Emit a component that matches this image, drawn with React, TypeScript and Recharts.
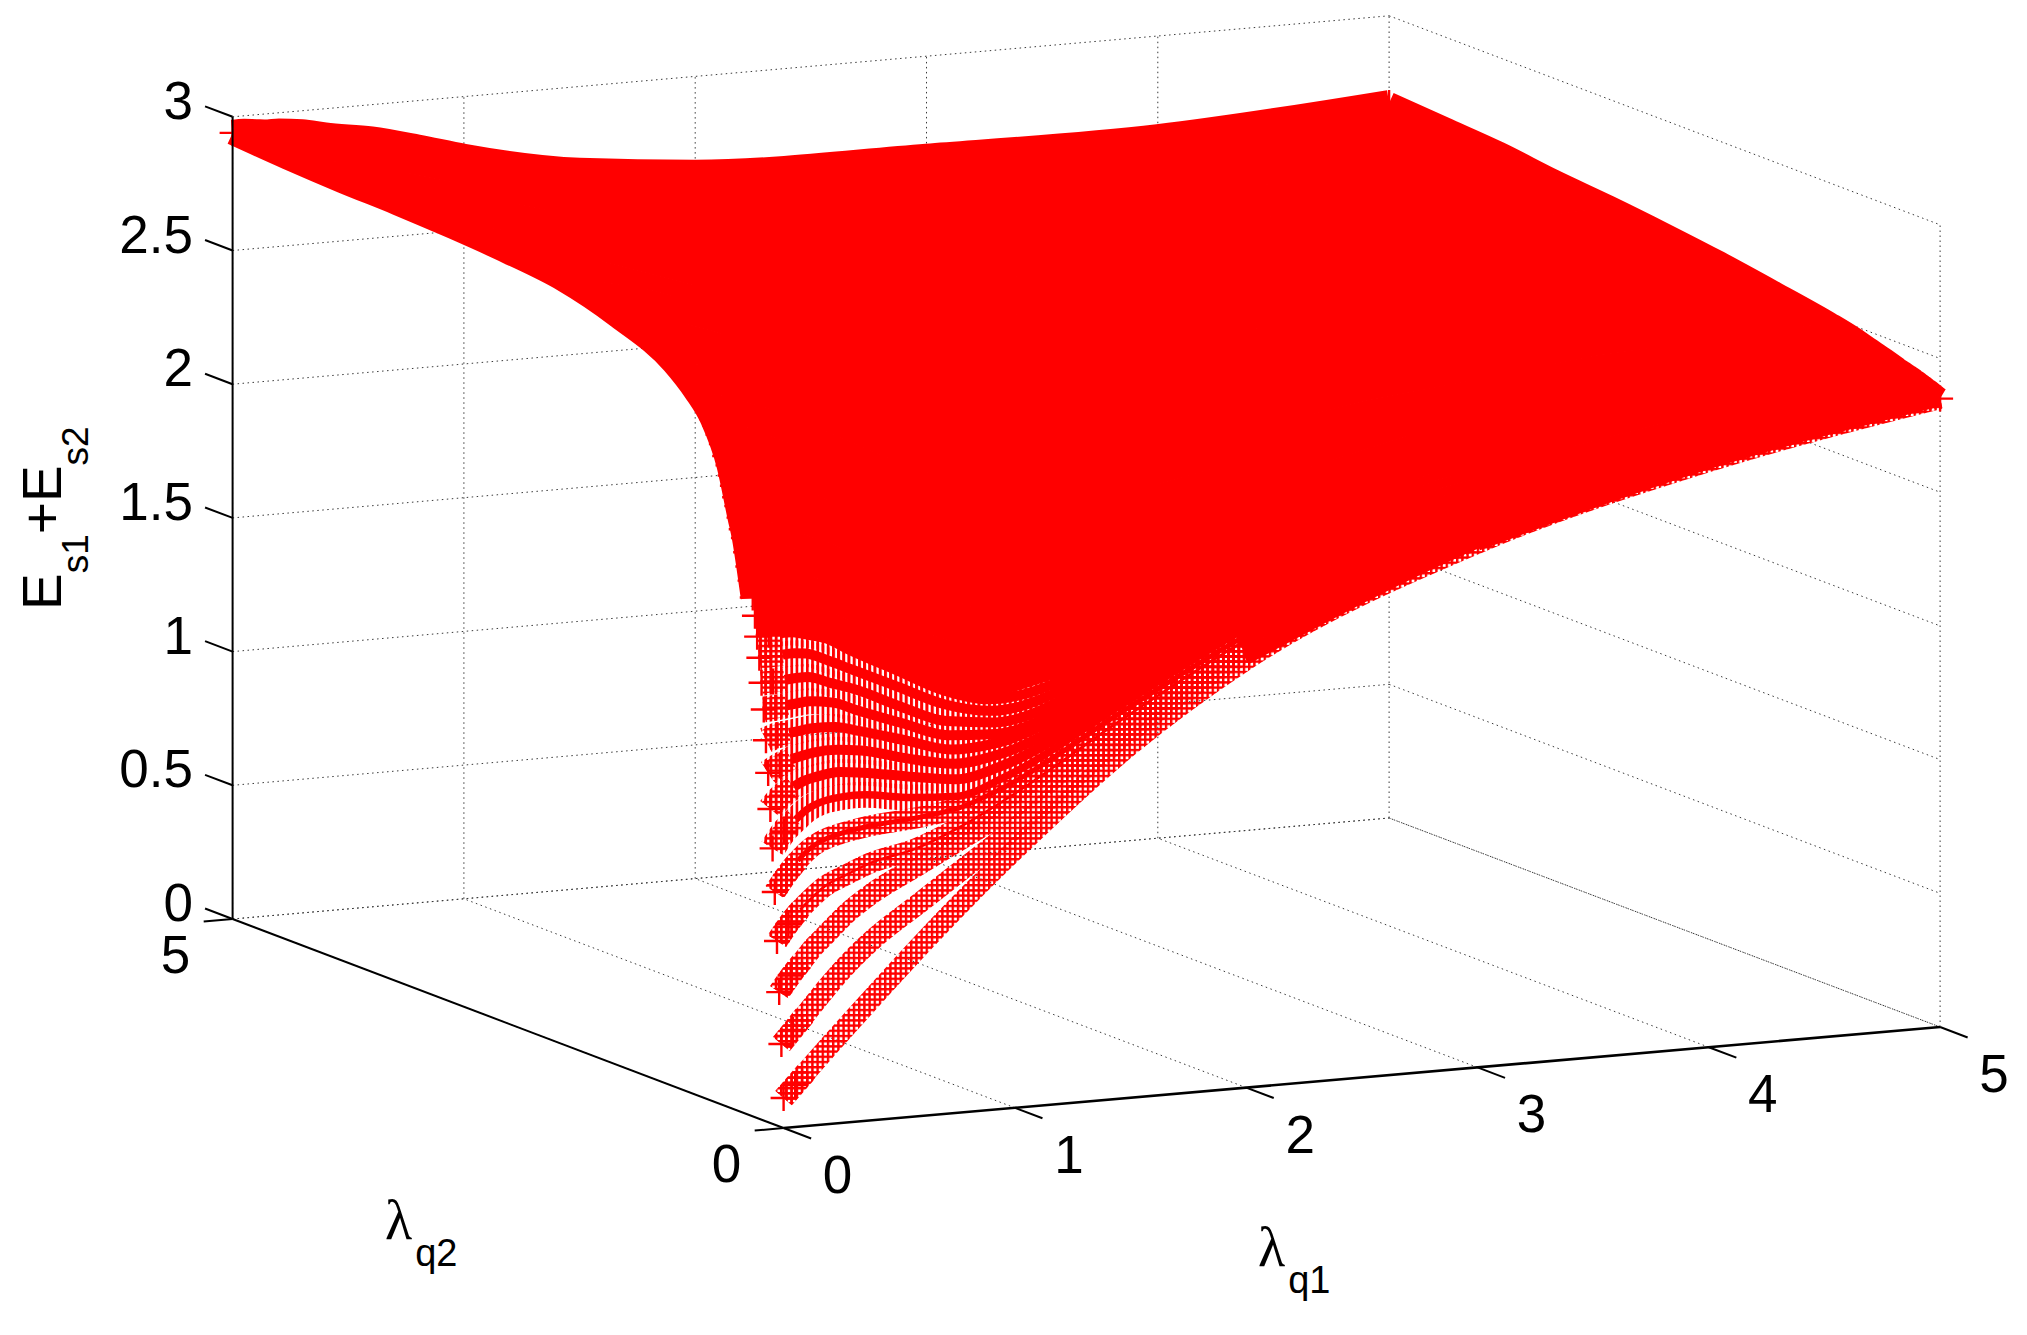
import React from 'react';
import { ScatterChart, Scatter, XAxis, YAxis } from 'recharts';

const WIDTH = 2027;
const HEIGHT = 1335;
const RED = '#ff0000';

const lambda1Values = [0, 0.05, 0.1, 0.15, 0.2, 0.3, 0.4, 0.6, 0.8, 1, 1.5, 2, 3, 4, 5];
const lambda2Rows = [
  0, 0.02, 0.04, 0.06, 0.08, 0.1, 0.12, 0.14, 0.16, 0.18, 0.2, 0.22, 0.24,
  0.28, 0.32, 0.36, 0.4, 0.5, 0.65, 0.8, 1, 1.5, 2, 2.5, 3, 3.5, 4, 4.5, 5,
];
const energyRows = [
  [0.112, 0.158, 0.204, 0.25, 0.295, 0.384, 0.472, 0.645, 0.81, 0.965, 1.32, 1.6, 1.96, 2.19, 2.35],
  [0.311, 0.36, 0.41, 0.46, 0.51, 0.6, 0.675, 0.795, 0.915, 1.035, 1.36, 1.62, 1.97, 2.195, 2.352],
  [0.502, 0.56, 0.61, 0.66, 0.7, 0.78, 0.84, 0.93, 1.02, 1.11, 1.39, 1.64, 1.98, 2.2, 2.355],
  [0.69, 0.75, 0.8, 0.84, 0.875, 0.915, 0.95, 0.99, 1.06, 1.15, 1.41, 1.65, 1.99, 2.205, 2.358],
  [0.87, 0.93, 0.98, 1.02, 1.045, 1.07, 1.085, 1.1, 1.125, 1.19, 1.43, 1.66, 2.0, 2.21, 2.362],
  [1.03, 1.09, 1.13, 1.165, 1.185, 1.2, 1.2, 1.175, 1.165, 1.22, 1.45, 1.68, 2.01, 2.215, 2.365],
  [1.174, 1.22, 1.25, 1.27, 1.28, 1.29, 1.28, 1.25, 1.225, 1.26, 1.47, 1.69, 2.02, 2.22, 2.367],
  [1.306, 1.33, 1.35, 1.36, 1.368, 1.37, 1.36, 1.315, 1.28, 1.3, 1.49, 1.71, 2.03, 2.225, 2.371],
  [1.425, 1.44, 1.445, 1.45, 1.455, 1.452, 1.43, 1.38, 1.33, 1.34, 1.51, 1.72, 2.04, 2.23, 2.374],
  [1.537, 1.54, 1.545, 1.55, 1.553, 1.54, 1.505, 1.44, 1.38, 1.37, 1.53, 1.73, 2.05, 2.235, 2.377],
  [1.634, 1.635, 1.637, 1.64, 1.64, 1.61, 1.58, 1.5, 1.43, 1.41, 1.55, 1.74, 2.06, 2.24, 2.381],
  [1.724, 1.726, 1.728, 1.73, 1.725, 1.69, 1.65, 1.57, 1.49, 1.45, 1.57, 1.75, 2.07, 2.245, 2.383],
  [1.8, 1.803, 1.805, 1.805, 1.795, 1.77, 1.72, 1.63, 1.54, 1.49, 1.59, 1.77, 2.08, 2.25, 2.386],
  [1.94, 1.94, 1.935, 1.93, 1.91, 1.875, 1.83, 1.73, 1.64, 1.58, 1.63, 1.8, 2.1, 2.26, 2.391],
  [2.05, 2.05, 2.04, 2.03, 2.015, 1.98, 1.93, 1.83, 1.73, 1.66, 1.68, 1.83, 2.12, 2.27, 2.396],
  [2.15, 2.145, 2.135, 2.12, 2.1, 2.06, 2.02, 1.92, 1.82, 1.74, 1.73, 1.86, 2.14, 2.285, 2.4],
  [2.22, 2.215, 2.205, 2.19, 2.17, 2.13, 2.09, 1.99, 1.89, 1.81, 1.78, 1.89, 2.16, 2.3, 2.406],
  [2.4, 2.39, 2.38, 2.36, 2.34, 2.3, 2.25, 2.15, 2.05, 1.97, 1.9, 1.97, 2.2, 2.33, 2.42],
  [2.55, 2.54, 2.53, 2.51, 2.49, 2.45, 2.41, 2.31, 2.21, 2.13, 2.03, 2.06, 2.26, 2.37, 2.438],
  [2.63, 2.62, 2.61, 2.6, 2.58, 2.55, 2.51, 2.42, 2.33, 2.25, 2.13, 2.13, 2.3, 2.4, 2.457],
  [2.705, 2.7, 2.69, 2.68, 2.665, 2.64, 2.6, 2.52, 2.43, 2.36, 2.23, 2.2, 2.34, 2.43, 2.476],
  [2.8, 2.795, 2.79, 2.78, 2.77, 2.75, 2.72, 2.65, 2.58, 2.51, 2.38, 2.33, 2.4, 2.47, 2.513],
  [2.86, 2.855, 2.85, 2.84, 2.83, 2.81, 2.785, 2.72, 2.66, 2.6, 2.48, 2.42, 2.45, 2.51, 2.547],
  [2.885, 2.88, 2.875, 2.87, 2.86, 2.84, 2.82, 2.76, 2.7, 2.65, 2.54, 2.48, 2.5, 2.54, 2.575],
  [2.9, 2.895, 2.89, 2.885, 2.875, 2.86, 2.84, 2.79, 2.73, 2.68, 2.58, 2.53, 2.53, 2.56, 2.599],
  [2.91, 2.905, 2.9, 2.895, 2.885, 2.87, 2.85, 2.8, 2.75, 2.7, 2.6, 2.56, 2.56, 2.58, 2.618],
  [2.915, 2.91, 2.905, 2.9, 2.89, 2.875, 2.855, 2.81, 2.76, 2.71, 2.62, 2.58, 2.58, 2.6, 2.644],
  [2.925, 2.92, 2.915, 2.905, 2.895, 2.88, 2.86, 2.81, 2.76, 2.71, 2.63, 2.6, 2.6, 2.61, 2.659],
  [2.94, 2.94, 2.935, 2.93, 2.93, 2.92, 2.9, 2.87, 2.825, 2.775, 2.685, 2.64, 2.624, 2.622, 2.674],
];
// first point of every row, where the + markers stick out of the surface
const edgeLambda2 = [
  0, 0.02, 0.04, 0.06, 0.08, 0.1, 0.12, 0.14, 0.16, 0.18, 0.2, 0.22, 0.24, 0.26, 0.28, 0.3, 0.32,
  0.34, 0.36, 0.38, 0.4, 0.42, 0.44, 0.46, 0.48, 0.5, 0.53, 0.56, 0.59, 0.62, 0.65, 5,
];
const edgeEnergy = [
  0.112, 0.311, 0.502, 0.69, 0.87, 1.03, 1.174, 1.306, 1.425, 1.537, 1.634, 1.724, 1.8, 1.875, 1.94, 2.0, 2.05,
  2.1, 2.15, 2.18, 2.22, 2.26, 2.29, 2.33, 2.365, 2.4, 2.43, 2.47, 2.5, 2.53, 2.55, 2.94,
];

const energyTicks = [0, 0.5, 1, 1.5, 2, 2.5, 3];
const energyLabels = ['0', '0.5', '1', '1.5', '2', '2.5', '3'];
const lambda1Ticks = [0, 1, 2, 3, 4, 5];
const lambda2Ticks = [0, 5];

// orthographic view of the 3D box, in page pixels
const project = (l1: number, l2: number, e: number) => ({
  x: 783.6 + 231.3 * l1 - 110.2 * l2,
  y: 1128 - 20.2 * l1 - 41.8 * l2 - 267.4 * e,
});

const seg = (a: number[], b: number[]) => [project(a[0], a[1], a[2]), project(b[0], b[1], b[2])];

const gridLines = [
  ...lambda1Ticks.map((k) => seg([k, 0, 0], [k, 5, 0])),
  ...lambda1Ticks.map((k) => seg([k, 5, 0], [k, 5, 3])),
  ...energyTicks.map((e) => seg([0, 5, e], [5, 5, e])),
  ...energyTicks.map((e) => seg([5, 5, e], [5, 0, e])),
  seg([0, 5, 0], [5, 5, 0]),
  seg([5, 0, 0], [5, 0, 3]),
];

const axisLines = [
  { pts: seg([0, 5, 0], [0, 5, 3]), w: 2 },
  { pts: seg([0, 0, 0], [0, 5, 0]), w: 2 },
  { pts: seg([0, 0, 0], [5, 0, 0]), w: 2.6 },
  ...energyTicks.map((e) => ({ pts: seg([0, 5, e], [0, 5.25, e]), w: 2 })),
  ...lambda1Ticks.map((k) => ({ pts: seg([k, 0, 0], [k, -0.25, 0]), w: 2 })),
  ...lambda2Ticks.map((k) => ({ pts: seg([0, k, 0], [-0.125, k, 0]), w: 2 })),
];

const rowPoints = (i: number) => lambda1Values.map((l1, j) => project(l1, lambda2Rows[i], energyRows[i][j]));
const columnPoints = (j: number, from: number) =>
  lambda2Rows
    .map((l2, i) => project(lambda1Values[j], l2, energyRows[i][j]))
    .slice(from)
    .reverse();

const LOW_ROWS = 13;
const lastRow = lambda2Rows.length - 1;
const lastColumn = lambda1Values.length - 1;
const rowOrder = lambda2Rows.map((_, i) => lastRow - i);

// where the surface between row i and row i + 1 closes up into solid red
const solidFrom = (i: number) => (i >= 12 ? 0 : i >= 5 ? 10 : 11);
const stripPoints = (i: number) => [
  ...rowPoints(i).slice(solidFrom(i)),
  ...rowPoints(i + 1).slice(solidFrom(i)).reverse(),
];

const edgePoints = edgeLambda2.map((l2, i) => project(0, l2, edgeEnergy[i]));
const secondPoints = lambda2Rows.slice(0, LOW_ROWS).map((_, i) => rowPoints(i)[1]);
const cornerPoints = [rowPoints(0)[lastColumn], rowPoints(lastRow)[lastColumn]];

const energyLabelPoints = energyTicks.map((e, i) => {
  const p = project(0, 5, e);
  return { x: 193, y: p.y + 2, label: energyLabels[i] };
});
const lambda1LabelPoints = lambda1Ticks.map((k) => {
  const p = project(k, 0, 0);
  return { x: p.x + 54, y: p.y + 65, label: String(k) };
});
const lambda2LabelPoints = lambda2Ticks.map((k) => {
  const p = project(0, k, 0);
  return { x: p.x - 57, y: p.y + 54, label: String(k) };
});

const noMarker = () => <g />;

const PlusMarker = (props: any) => {
  const { cx, cy } = props;
  return <path d={`M${cx - 13} ${cy}H${cx + 13}M${cx} ${cy - 13}V${cy + 13}`} stroke={RED} strokeWidth={2.4} fill="none" />;
};

const tickLabel = (anchor: string) => (props: any) => (
  <text x={props.cx} y={props.cy} textAnchor={anchor} fontFamily="Liberation Sans" fontSize={53} fill="#000">
    {props.payload.label}
  </text>
);

const EnergyTitle = (props: any) => {
  const { cx, cy } = props;
  return (
    <text transform={`rotate(-90 ${cx} ${cy})`} x={cx} y={cy} fontFamily="Liberation Sans" fontSize={55} fill="#000">
      E
      <tspan fontSize={37} dy={27}>s1</tspan>
      <tspan dy={-27}>+E</tspan>
      <tspan fontSize={37} dy={27}>s2</tspan>
    </text>
  );
};

const lambdaTitle = (sub: string) => (props: any) => {
  const { cx, cy } = props;
  return (
    <text x={cx} y={cy} fill="#000">
      <tspan fontFamily="Liberation Serif" fontSize={56}>λ</tspan>
      <tspan fontFamily="Liberation Sans" fontSize={38} dy={27} dx={3}>{sub}</tspan>
    </text>
  );
};

const lineSeries = (key: string, data: any[], line: any, curve = 'linear') => (
  <Scatter
    key={key}
    data={data}
    line={line}
    lineJointType={curve as any}
    shape={noMarker}
    isAnimationActive={false}
    fill="none"
  />
);

export default function App() {
  return (
    <div style={{ position: 'absolute', left: 0, top: 0, width: WIDTH, height: HEIGHT, background: '#fff' }}>
      <ScatterChart width={WIDTH} height={HEIGHT} margin={{ top: 0, right: 0, bottom: 0, left: 0 }}>
        <defs>
          <pattern id="lattice" width={5.2} height={5.2} patternUnits="userSpaceOnUse">
            <path d="M0 1.2H5.2M1.2 0V5.2" stroke={RED} strokeWidth={2.4} fill="none" />
          </pattern>
          <pattern id="comb" width={5.2} height={5.2} patternUnits="userSpaceOnUse">
            <path d="M1.2 0V5.2" stroke={RED} strokeWidth={3} fill="none" />
          </pattern>
        </defs>
        <XAxis type="number" dataKey="x" domain={[0, WIDTH]} hide />
        <YAxis type="number" dataKey="y" domain={[0, HEIGHT]} reversed hide />

        {gridLines.map((pts, i) =>
          lineSeries(`grid-${i}`, pts, { stroke: '#3a3a3a', strokeWidth: 1, strokeDasharray: '1.5 3.5' }),
        )}

        {/* solid part of the surface */}
        {rowOrder
          .filter((i) => i < lastRow)
          .map((i) => lineSeries(`strip-${i}`, stripPoints(i), { stroke: RED, strokeWidth: 1.5, fill: RED, strokeLinejoin: 'round' }))}
        {lineSeries('row-last', rowPoints(lastRow), { stroke: RED, strokeWidth: 26 }, 'monotoneX')}
        {lineSeries('col-last', columnPoints(lastColumn, 0), { stroke: RED, strokeWidth: 22 }, 'monotoneX')}
        {lineSeries('col-first', columnPoints(0, 13), { stroke: RED, strokeWidth: 24 }, 'monotoneX')}

        {/* separated rows near the front corner */}
        {rowOrder
          .filter((i) => i < LOW_ROWS)
          .map((i) => [
            lineSeries(
              `low-${i}`,
              rowPoints(i),
              { stroke: i <= 4 ? 'url(#lattice)' : 'url(#comb)', strokeWidth: i <= 4 ? 21 : 26 },
              'monotoneX',
            ),
            lineSeries(
              `start-${i}`,
              rowPoints(i).slice(0, 3),
              { stroke: 'url(#lattice)', strokeWidth: 22 },
              'monotoneX',
            ),
            i >= 3
              ? lineSeries(
                  `core-${i}`,
                  rowPoints(i).slice(2),
                  { stroke: RED, strokeWidth: Math.min(10, (i - 2) * 2.5) },
                  'monotoneX',
                )
              : null,
          ])}
        {lineSeries('edge-mid', rowPoints(0).slice(11), { stroke: RED, strokeWidth: 10 }, 'monotoneX')}
        {lineSeries('edge-far', rowPoints(0).slice(12), { stroke: RED, strokeWidth: 15 }, 'monotoneX')}

        <Scatter data={edgePoints} shape={PlusMarker} isAnimationActive={false} />
        <Scatter data={secondPoints} shape={PlusMarker} isAnimationActive={false} />
        <Scatter data={cornerPoints} shape={PlusMarker} isAnimationActive={false} />

        {axisLines.map((a, i) => lineSeries(`axis-${i}`, a.pts, { stroke: '#000', strokeWidth: a.w }))}

        <Scatter data={energyLabelPoints} shape={tickLabel('end')} isAnimationActive={false} />
        <Scatter data={lambda1LabelPoints} shape={tickLabel('middle')} isAnimationActive={false} />
        <Scatter data={lambda2LabelPoints} shape={tickLabel('middle')} isAnimationActive={false} />
        <Scatter data={[{ x: 61, y: 610 }]} shape={EnergyTitle} isAnimationActive={false} />
        <Scatter data={[{ x: 385, y: 1239 }]} shape={lambdaTitle('q2')} isAnimationActive={false} />
        <Scatter data={[{ x: 1258, y: 1266 }]} shape={lambdaTitle('q1')} isAnimationActive={false} />
      </ScatterChart>
    </div>
  );
}
